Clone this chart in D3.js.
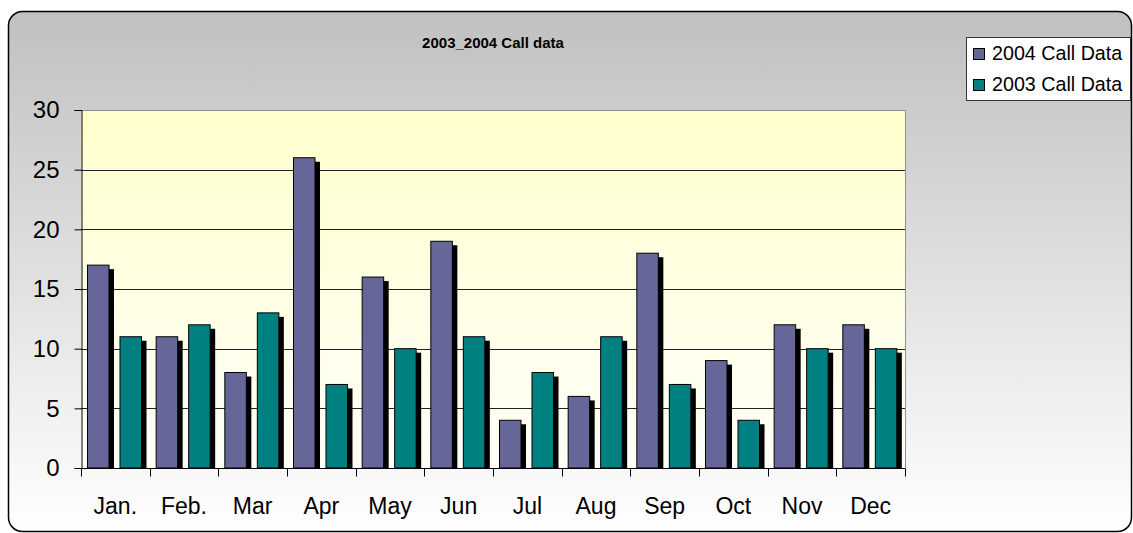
<!DOCTYPE html>
<html>
<head>
  <title>2003_2004 Call data</title>
  <script src="https://d3js.org/d3.v7.min.js"></script>
  <style>
    body { margin: 0; background: #ffffff; }
    text { font-family: "Liberation Sans", Arial, sans-serif; fill: #000; }
  </style>
</head>
<body>
  <div id="chart"></div>
  <script>
    var months = ["Jan.", "Feb.", "Mar", "Apr", "May", "Jun", "Jul", "Aug", "Sep", "Oct", "Nov", "Dec"];
    var seriesNames = ["2004 Call Data", "2003 Call Data"];
    var calls2004 = [17, 11, 8, 26, 16, 19, 4, 6, 18, 9, 12, 12];
    var calls2003 = [11, 12, 13, 7, 10, 11, 8, 11, 7, 4, 10, 10];
    var yTicks = [0, 5, 10, 15, 20, 25, 30];
    var colors = ["#666699", "#008080"];

    var data = months.map(function(m, i) {
      return { month: m, values: [calls2004[i], calls2003[i]] };
    });

    var svg = d3.select("#chart")
                .append("svg")
                .attr("width", 1133)
                .attr("height", 533);

    var defs = svg.append("defs");
    var bgGrad = defs.append("linearGradient")
                     .attr("id", "bgGrad")
                     .attr("x1", 0).attr("y1", 0).attr("x2", 0).attr("y2", 1);
    bgGrad.append("stop").attr("offset", "0%").attr("stop-color", "#c0c0c0");
    bgGrad.append("stop").attr("offset", "100%").attr("stop-color", "#ffffff");

    var plotGrad = defs.append("linearGradient")
                       .attr("id", "plotGrad")
                       .attr("x1", 0).attr("y1", 0).attr("x2", 0).attr("y2", 1);
    plotGrad.append("stop").attr("offset", "0%").attr("stop-color", "#ffffcc");
    plotGrad.append("stop").attr("offset", "100%").attr("stop-color", "#fffffa");

    // chart frame
    svg.append("rect")
       .attr("x", 8.5)
       .attr("y", 11.5)
       .attr("width", 1123)
       .attr("height", 520)
       .attr("rx", 14)
       .attr("fill", "url(#bgGrad)")
       .attr("stroke", "#000")
       .attr("stroke-width", 1.5);

    // plot area edges (not named top/bottom: window.top is read-only)
    var plotLeft = 81, plotRight = 905, plotTop = 110, plotBottom = 468;

    var xScale = d3.scaleBand()
                   .domain(months)
                   .range([plotLeft, plotRight])
                   .padding(0);

    var xSub = d3.scaleBand()
                 .domain([0, 1])
                 .range([0, xScale.bandwidth()])
                 .paddingInner(0.338)
                 .paddingOuter(0.2255)
                 .align(0.443);

    var yScale = d3.scaleLinear()
                   .domain([0, 30])
                   .range([plotBottom, plotTop]);

    // plot area
    svg.append("rect")
       .attr("x", plotLeft)
       .attr("y", plotTop)
       .attr("width", plotRight - plotLeft)
       .attr("height", plotBottom - plotTop)
       .attr("fill", "url(#plotGrad)");

    // gridlines
    svg.append("g")
       .selectAll("line")
       .data(yTicks.filter(function(t) { return t > 0 && t < 30; }))
       .enter()
       .append("line")
       .attr("x1", plotLeft)
       .attr("x2", plotRight)
       .attr("y1", function(d) { return Math.round(yScale(d)) + 0.5; })
       .attr("y2", function(d) { return Math.round(yScale(d)) + 0.5; })
       .attr("stroke", "#222")
       .attr("stroke-width", 1);

    // plot border top and right
    svg.append("path")
       .attr("d", "M" + plotLeft + "," + (plotTop + 0.5) + "H" + (plotRight + 0.5) + "V" + plotBottom)
       .attr("fill", "none")
       .attr("stroke", "#909090")
       .attr("stroke-width", 1);

    // bars with shadows
    var groups = svg.append("g")
                    .selectAll("g")
                    .data(data)
                    .enter()
                    .append("g")
                    .attr("transform", function(d) { return "translate(" + xScale(d.month) + ",0)"; });

    var bars = groups.selectAll("g")
                     .data(function(d) { return d.values.map(function(v, i) { return { s: i, v: v }; }); })
                     .enter()
                     .append("g");

    bars.append("rect")
        .attr("x", function(d) { return xSub(d.s) + 5; })
        .attr("y", function(d) { return yScale(d.v) + 4; })
        .attr("width", xSub.bandwidth())
        .attr("height", function(d) { return plotBottom - yScale(d.v) - 4; })
        .attr("fill", "#000");

    bars.append("rect")
        .attr("x", function(d) { return xSub(d.s); })
        .attr("y", function(d) { return yScale(d.v); })
        .attr("width", xSub.bandwidth())
        .attr("height", function(d) { return plotBottom - yScale(d.v); })
        .attr("fill", function(d) { return colors[d.s]; })
        .attr("stroke", "#000")
        .attr("stroke-width", 1);

    // y axis
    var yAxis = svg.append("g")
                   .attr("transform", "translate(" + (plotLeft + 0.5) + ",0)")
                   .call(d3.axisLeft(yScale).tickValues(yTicks).tickSize(7).tickPadding(15));
    yAxis.select(".domain").attr("stroke", "#000");
    yAxis.selectAll(".tick line").attr("stroke", "#000");
    yAxis.selectAll("text")
         .style("font-family", "'Liberation Sans', Arial, sans-serif")
         .style("font-size", "24px")
         .attr("fill", "#000");

    // x axis
    var xAxisG = svg.append("g")
                    .attr("transform", "translate(0," + (plotBottom + 0.5) + ")");
    xAxisG.append("line")
          .attr("x1", plotLeft)
          .attr("x2", plotRight)
          .attr("stroke", "#000");
    xAxisG.selectAll(".xtick")
          .data(d3.range(months.length + 1))
          .enter()
          .append("line")
          .attr("class", "xtick")
          .attr("x1", function(i) { return Math.round(plotLeft + i * xScale.step()) + 0.5; })
          .attr("x2", function(i) { return Math.round(plotLeft + i * xScale.step()) + 0.5; })
          .attr("y1", 0)
          .attr("y2", 8)
          .attr("stroke", "#000");
    xAxisG.selectAll(".xlabel")
          .data(months)
          .enter()
          .append("text")
          .attr("class", "xlabel")
          .attr("x", function(d) { return xScale(d) + xScale.bandwidth() / 2; })
          .attr("y", 45)
          .attr("text-anchor", "middle")
          .style("font-size", "23px")
          .text(function(d) { return d; });

    // title
    svg.append("text")
       .attr("x", (plotLeft + plotRight) / 2)
       .attr("y", 48)
       .attr("text-anchor", "middle")
       .style("font-size", "15px")
       .style("font-weight", "bold")
       .text("2003_2004 Call data");

    // legend
    var legend = svg.append("g").attr("transform", "translate(966,37)");
    legend.append("rect")
          .attr("x", 0.5)
          .attr("y", 0.5)
          .attr("width", 164)
          .attr("height", 63)
          .attr("fill", "#fff")
          .attr("stroke", "#333");
    var items = legend.selectAll(".item")
                      .data(seriesNames)
                      .enter()
                      .append("g")
                      .attr("class", "item")
                      .attr("transform", function(d, i) { return "translate(0," + (i * 31) + ")"; });
    items.append("rect")
         .attr("x", 7.5)
         .attr("y", 11.5)
         .attr("width", 11)
         .attr("height", 11)
         .attr("fill", function(d, i) { return colors[i]; })
         .attr("stroke", "#000");
    items.append("text")
         .attr("x", 26)
         .attr("y", 23)
         .style("font-size", "19.7px")
         .text(function(d) { return d; });
  </script>
</body>
</html>
